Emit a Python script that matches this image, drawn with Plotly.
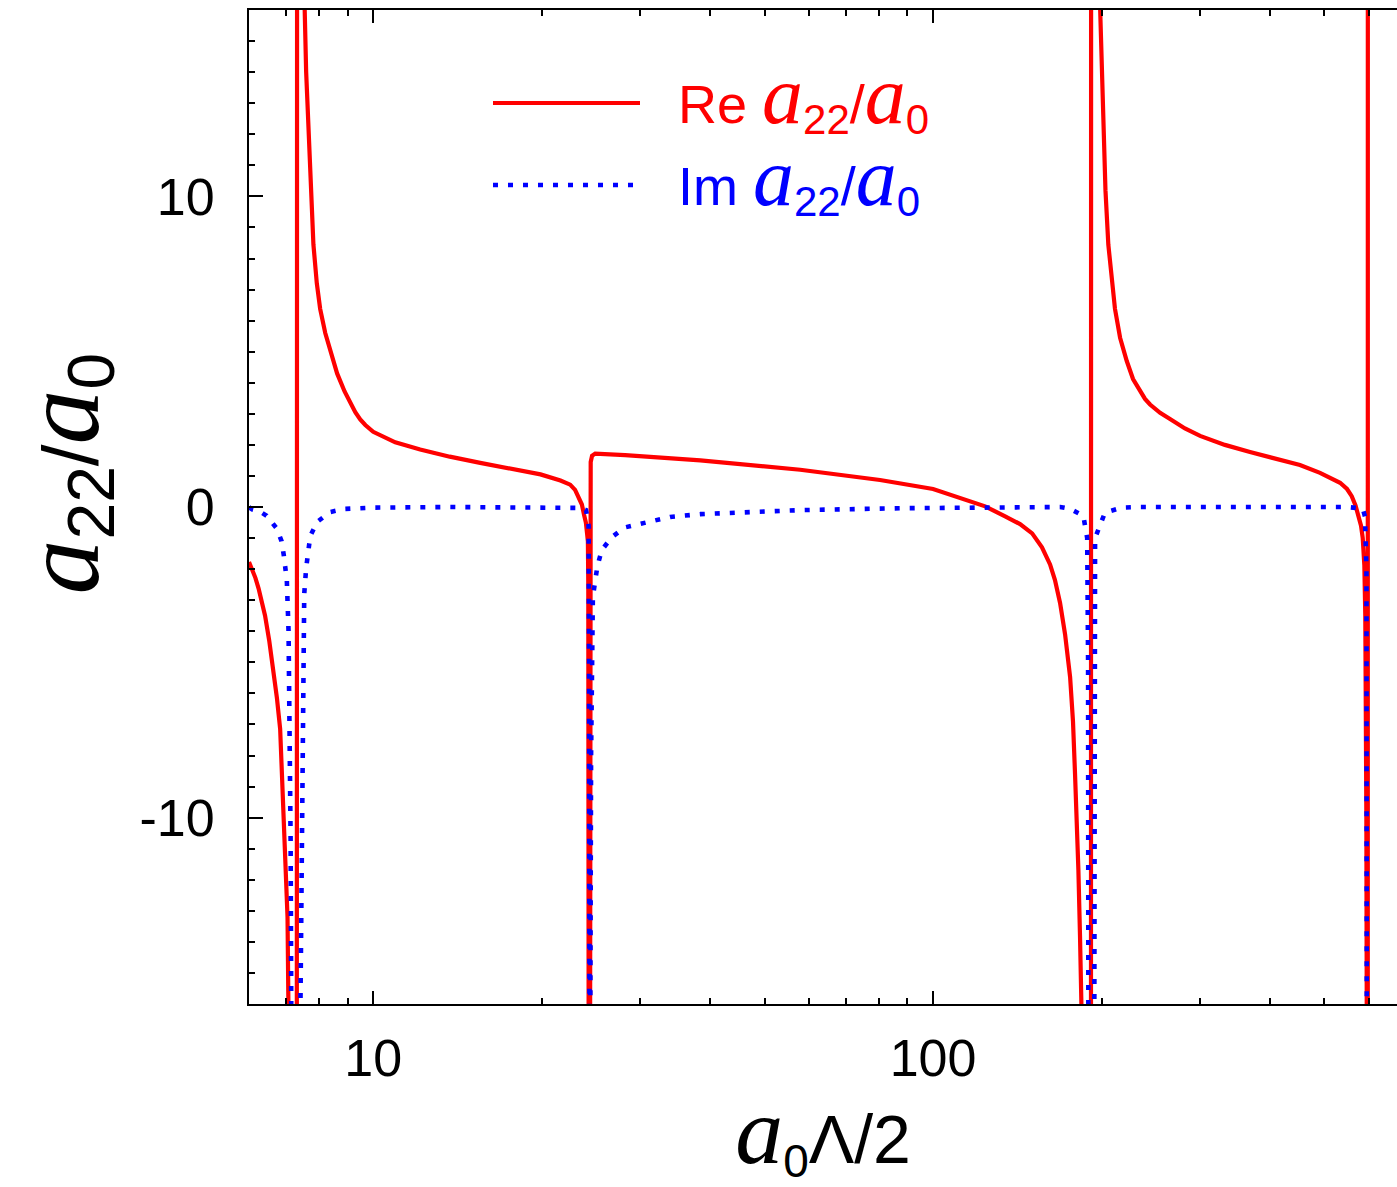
import plotly.graph_objects as go
import math

# ---- data (a0*Lambda/2 on a log axis) ----
re_x = [6.00, 6.08, 6.16, 6.24, 6.32, 6.41, 6.52, 6.63, 6.73, 6.82, 6.87, 6.91, 6.95,
        7.00, 7.03, 7.06, 7.09,
        7.30, 7.316, 7.50, 7.54, 7.59, 7.66, 7.73, 7.82, 7.93, 8.04, 8.21, 8.38, 8.62,
        8.89, 9.1, 9.29, 9.48, 9.68, 10.0, 10.5, 10.95, 12.13, 13.7, 15.53, 17.6,
        19.9, 21.6, 22.48, 22.94,
        23.3, 23.59, 23.8, 23.98, 24.1, 24.18, 24.22, 24.24, 24.27, 24.29, 24.31,
        24.33, 24.37, 24.46, 24.6, 24.92, 28.18, 38.4, 57.9, 80.4, 100.0, 111.7,
        123.9, 134.5, 143.0, 150.3, 156.5, 161.8, 165.1, 168.6, 172.1, 175.7, 177.8,
        179.3, 180.8, 181.8, 183.0, 184.3, 184.6,
        191.4, 191.6, 196.0, 198.7, 201.4, 203.2, 205.6, 208.4, 211.3, 215.8, 221.8,
        227.6, 234.2, 239.1, 244.1, 254.4, 265.0, 281.8, 299.9, 332.1, 368.2, 408.1,
        452.2, 491.1, 533.3, 548.8, 559.5, 568.3, 574.9, 581.3, 585.4, 589.3, 591.6,
        593.3, 594.2, 595.2, 595.5, 597.6, 597.9, 674.0]
re_y = [-1.77, -2.0, -2.28, -2.62, -3.0, -3.5, -4.3, -5.2, -6.15, -7.14, -8.6, -9.7, -10.7,
        -12.3, -13.2, -16.5, -40,
        -40, 40, 60, 16.2, 14.0, 12.2, 10.4, 8.45, 7.2, 6.38, 5.6, 5.02, 4.3,
        3.72, 3.35, 3.05, 2.82, 2.64, 2.42, 2.22, 2.08, 1.85, 1.62, 1.42, 1.25,
        1.05, 0.85, 0.72, 0.55,
        0.3, 0.08, -0.25, -0.5, -0.85, -1.1, -2.5, -5.5, -10.0, -16.5, -40,
        -40, 0.8, 1.45, 1.65, 1.72, 1.67, 1.5, 1.2, 0.87, 0.58, 0.3,
        0.02, -0.3, -0.55, -0.85, -1.3, -1.85, -2.35, -3.09, -4.1, -5.47, -6.9,
        -8.6, -10.2, -11.7, -13.8, -16.5, -40,
        -40, 40, 60, 16.2, 12.2, 10.2, 8.45, 7.3, 6.38, 5.45, 4.7,
        4.12, 3.72, 3.48, 3.3, 3.03, 2.83, 2.53, 2.29, 2.0, 1.77, 1.55,
        1.35, 1.1, 0.78, 0.58, 0.35, 0.05, -0.23, -0.6, -1.0, -1.88, -3.5,
        -6.0, -10.0, -16.5, -40, -40, 40, 40]

im_x = [6.00, 6.08, 6.28, 6.45, 6.73, 6.86, 6.92, 7.01, 7.06, 7.09, 7.12, 7.14, 7.15,
        7.39, 7.41, 7.43, 7.46, 7.51, 7.53, 7.59, 7.65, 7.72, 7.94, 8.38, 8.91,
        10.0, 13.7, 22.48, 23.42, 24.0, 24.25, 24.30, 24.31, 24.32,
        24.41, 24.42, 24.5, 24.58, 24.68, 24.92, 25.15, 25.61, 26.69, 28.11,
        29.99, 31.76, 33.92, 38.4, 47.1, 57.9, 87.3, 131.8, 168.6, 175.7,
        185.5, 188.5, 189.2, 189.4, 189.5,
        194.0, 194.1, 194.3, 194.7, 202.8, 217.3, 234.2, 511.6, 548.2, 585.4,
        590.7, 594.4, 596.0, 596.5, 596.6]
im_y = [0.0, -0.08, -0.15, -0.28, -0.7, -1.1, -1.53, -2.36, -4.0, -6.5, -10.7, -16.5, -40,
        -40, -16.5, -14.0, -8.6, -4.4, -2.8, -1.96, -1.45, -0.93, -0.48, -0.16, -0.06,
        -0.02, 0.0, 0.0, -0.03, -0.1, -0.6, -5.0, -16.5, -40,
        -40, -16.5, -8.0, -4.35, -2.9, -2.37, -1.9, -1.38, -0.97, -0.66,
        -0.55, -0.42, -0.32, -0.23, -0.15, -0.1, -0.04, -0.01, 0.0, -0.06,
        -0.28, -1.0, -5.0, -16.5, -40,
        -40, -16.5, -3.0, -1.0, -0.18, -0.02, 0.0, 0.0, 0.0, -0.05,
        -0.3, -2.0, -8.0, -16.5, -40]

x_tickvals = [10, 100]
x_ticktext = ["10", "100"]
x_minor = [6, 7, 8, 9, 20, 30, 40, 50, 60, 70, 80, 90, 200, 300, 400, 500, 600]
y_tickvals = [-10, 0, 10]
y_ticktext = ["-10", "0", "10"]

RED = "#ff0000"
BLUE = "#0000ff"
W, H = 1397, 1187
L, T, B = 249, 10, 183
PW, PH = W - L, H - T - B
RED_W, BLUE_W, BLUE_DASH = 4.2, 4.6, "5px,10px"


def px(xp):
    return (xp - L) / PW


def py(yp):
    return (H - B - yp) / PH


fig = go.Figure()
fig.add_trace(go.Scatter(x=re_x, y=re_y, mode="lines", name="Re",
                         line=dict(color=RED, width=RED_W), showlegend=False))
fig.add_trace(go.Scatter(x=im_x, y=im_y, mode="lines", name="Im",
                         line=dict(color=BLUE, width=BLUE_W, dash=BLUE_DASH),
                         showlegend=False))


def ital(size):
    return ('<span style="font-family:\'Liberation Serif\';font-style:italic;'
            f'font-size:{size}px">a</span>')


def sub(txt, size):
    return f'<sub><span style="font-size:{size}px">{txt}</span></sub>'


def ratio_label(prefix, a_size, sub_size):
    return f"{prefix}{ital(a_size)}{sub('22', sub_size)}/{ital(a_size)}{sub('0', sub_size)}"


# legend (drawn manually)
fig.add_shape(type="line", xref="paper", yref="paper", x0=px(493), x1=px(640),
              y0=py(103), y1=py(103), line=dict(color=RED, width=RED_W))
fig.add_shape(type="line", xref="paper", yref="paper", x0=px(493), x1=px(640),
              y0=py(185), y1=py(185), line=dict(color=BLUE, width=BLUE_W, dash=BLUE_DASH))
fig.add_annotation(xref="paper", yref="paper", x=px(676), y=py(97), xanchor="left",
                   yanchor="middle", showarrow=False, text=ratio_label("Re ", 82, 42),
                   font=dict(family="Liberation Sans", size=54, color=RED))
fig.add_annotation(xref="paper", yref="paper", x=px(676), y=py(179), xanchor="left",
                   yanchor="middle", showarrow=False, text=ratio_label("Im ", 82, 42),
                   font=dict(family="Liberation Sans", size=54, color=BLUE))

# leading blank space shifts the rotated y title upward, as in the reference
y_title = '<span style="font-size:60px">&nbsp;&nbsp;&nbsp;&nbsp;</span>' + ratio_label("", 110, 66)

fig.update_layout(
    width=W, height=H,
    margin=dict(l=L, r=0, t=T, b=B),
    paper_bgcolor="white", plot_bgcolor="white",
    font=dict(family="Liberation Sans", color="black"),
    xaxis=dict(
        type="log", range=[math.log10(6.0), math.log10(674)],
        tickmode="array", tickvals=x_tickvals, ticktext=x_ticktext,
        ticks="inside", ticklen=13, tickwidth=2, tickcolor="black",
        showline=True, linecolor="black", linewidth=2, mirror="ticks",
        showgrid=False, zeroline=False,
        tickfont=dict(family="Liberation Sans", size=52, color="black"),
        ticklabelstandoff=8,
        minor=dict(tickmode="array", tickvals=x_minor, ticks="inside",
                   ticklen=6, tickwidth=2, tickcolor="black", showgrid=False),
        title=dict(text=ital(96) + sub("0", 46) + "Λ/2",
                   font=dict(family="Liberation Sans", size=68, color="black"),
                   standoff=28),
    ),
    yaxis=dict(
        range=[-16, 16],
        tickmode="array", tickvals=y_tickvals, ticktext=y_ticktext,
        ticks="inside", ticklen=14, tickwidth=2, tickcolor="black",
        showline=True, linecolor="black", linewidth=2, mirror=False,
        showgrid=False, zeroline=False,
        tickfont=dict(family="Liberation Sans", size=52, color="black"),
        ticklabelstandoff=22,
        minor=dict(dtick=1, tick0=0, ticks="inside", ticklen=6, tickwidth=2,
                   tickcolor="black", showgrid=False),
        title=dict(text=y_title,
                   font=dict(family="Liberation Sans", size=78, color="black"),
                   standoff=24),
    ),
)

fig.write_html("out.html")
